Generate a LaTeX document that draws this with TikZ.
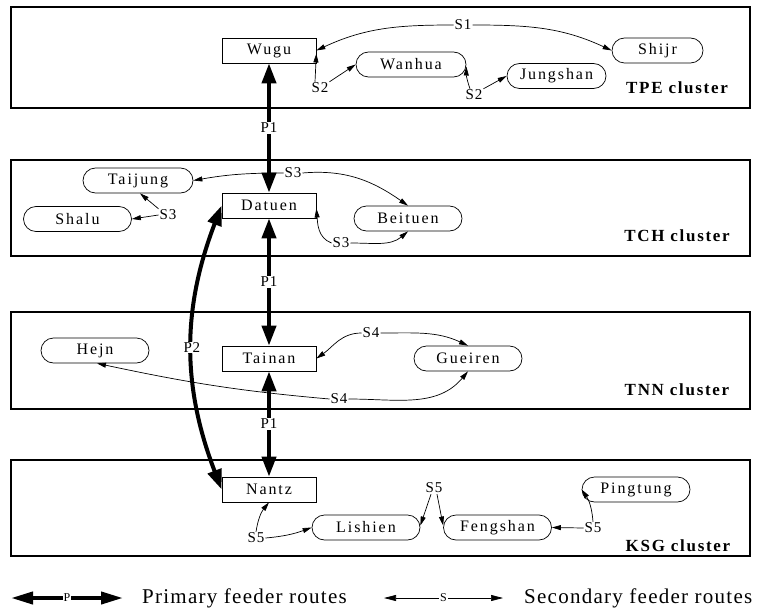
\documentclass[tikz,border=0pt]{standalone}
\usepackage{fontspec}
\setmainfont{Liberation Serif}
\newfontfamily\stationfont[LetterSpace=12]{Liberation Serif}
\newfontfamily\routefont[LetterSpace=5]{Liberation Serif}
\newfontfamily\clusterfont[LetterSpace=10]{Liberation Serif}
\newfontfamily\legendfont[LetterSpace=6]{Liberation Serif}
\usepackage{tikz}
\usetikzlibrary{arrows.meta}
\tikzset{
  cluster/.style={draw=black, line width=1.5pt},
  hub/.style={draw=black, line width=0.7pt, minimum width=94pt, minimum height=25pt,
    inner sep=0pt, font=\stationfont\fontsize{16}{18}\selectfont},
  feeder/.style={hub, rounded corners=12.5pt, minimum width=108pt},
  rlab/.style={fill=white, inner sep=1pt, font=\routefont\fontsize{15}{17}\selectfont},
  clab/.style={font=\clusterfont\bfseries\fontsize{17}{19}\selectfont},
  legtext/.style={anchor=west, inner sep=0pt, font=\legendfont\fontsize{21}{24}\selectfont},
  parrow/.style={line width=4pt, {Triangle[length=20pt,width=14pt]}-{Triangle[length=20pt,width=14pt]}},
  sarrow/.style={line width=0.7pt, -{Triangle[length=9pt,width=5pt]}}
}

\begin{document}
\begin{tikzpicture}[x=1pt, y=-1pt]
  \useasboundingbox (0,0) rectangle (768,615);

  % clusters
  \draw[cluster] (11,7) rectangle (750,108);
  \draw[cluster] (11,160) rectangle (750,256);
  \draw[cluster] (11,312) rectangle (750,409);
  \draw[cluster] (11,460) rectangle (750,556);
  \node[clab] (tpe) at (677,88) {TPE cluster};
  \node[clab] (tch) at (677,236) {TCH cluster};
  \node[clab] (tnn) at (677,390) {TNN cluster};
  \node[clab] (ksg) at (678,546) {KSG cluster};

  % stations
  \node[hub] (wugu) at (269,50.5) {Wugu};
  \node[feeder, minimum width=91pt] (shijr) at (657.5,50.5) {Shijr};
  \node[feeder, minimum width=110pt] (wanhua) at (411,64.5) {Wanhua};
  \node[feeder, minimum width=99pt] (jungshan) at (556.5,76) {Jungshan};

  \node[hub] (datuen) at (269,205.5) {Datuen};
  \node[feeder, minimum width=110pt] (taijung) at (138,180.5) {Taijung};
  \node[feeder] (shalu) at (77.5,219) {Shalu};
  \node[feeder] (beituen) at (408,218.5) {Beituen};

  \node[hub] (tainan) at (269,358.5) {Tainan};
  \node[feeder] (hejn) at (95,350.5) {Hejn};
  \node[feeder] (gueiren) at (468,358.5) {Gueiren};

  \node[hub] (nantz) at (269,489.5) {Nantz};
  \node[feeder] (lishien) at (366,527.5) {Lishien};
  \node[feeder] (fengshan) at (497.5,527.5) {Fengshan};
  \node[feeder] (pingtung) at (636,489.5) {Pingtung};

  % primary routes
  \draw[parrow] (wugu) -- node[rlab] {P1} (datuen);
  \draw[parrow] (datuen) -- node[rlab] {P1} (tainan);
  \draw[parrow] (tainan) -- node[rlab] {P1} (nantz);
  \draw[parrow] (datuen.west) to[bend right=21] node[rlab] {P2} (nantz.west);

  % secondary routes
  \node[rlab] (s1) at (463,25) {S1};
  \draw[sarrow] (s1.west) to[out=180, in=25] (wugu.east);
  \draw[sarrow] (s1.east) to[out=0, in=155] (shijr.west);

  \node[rlab] (s2a) at (320,88) {S2};
  \draw[sarrow] ([xshift=-5pt]s2a.north) -- ([yshift=-3pt]wugu.east);
  \draw[sarrow] (s2a.north east) -- (wanhua.west);
  \node[rlab] (s2b) at (474,95) {S2};
  \draw[sarrow] ([xshift=-4pt]s2b.north) to[bend left=10] ([yshift=-2pt]wanhua.east);
  \draw[sarrow] (s2b.north east) -- (jungshan.west);

  \node[rlab] (s3a) at (293,173) {S3};
  \draw[sarrow] (s3a.west) to[out=180, in=10] (taijung.east);
  \draw[sarrow] (s3a.east) to[out=5, in=145] (beituen.north);
  \node[rlab] (s3b) at (168,215) {S3};
  \draw[sarrow] (s3b.north west) -- ([xshift=2pt]taijung.south);
  \draw[sarrow] (s3b.west) -- (shalu.east);
  \node[rlab] (s3c) at (341,243) {S3};
  \draw[sarrow] (s3c.west) to[out=160, in=-85] ([yshift=-3pt]datuen.east);
  \draw[sarrow] (s3c.east) to[out=0, in=-140] (beituen.south);

  \node[rlab] (s4a) at (371,333) {S4};
  \draw[sarrow] (s4a.west) to[out=180, in=35] (tainan.east);
  \draw[sarrow] (s4a.east) to[out=0, in=155] (gueiren.north);
  \node[rlab] (s4b) at (339,399) {S4};
  \draw[sarrow] (s4b.west) to[out=175, in=-12] ([xshift=2pt]hejn.south);
  \draw[sarrow] (s4b.east) to[out=0, in=-130] (gueiren.south);

  \node[rlab] (s5a) at (256,538) {S5};
  \draw[sarrow] (s5a.north) to[bend left=15] (nantz.south);
  \draw[sarrow] (s5a.east) to[out=5, in=-160] (lishien.west);
  \node[rlab] (s5b) at (434,488) {S5};
  \draw[sarrow] ([xshift=-3pt]s5b.south) -- ([yshift=2pt]lishien.east);
  \draw[sarrow] ([xshift=3pt]s5b.south) -- ([yshift=2pt]fengshan.west);
  \node[rlab] (s5c) at (593,528) {S5};
  \draw[sarrow] (s5c.west) -- (fengshan.east);
  \draw[sarrow] (s5c.north) to[bend right=15] (pingtung.west);

  % legend
  \coordinate (legPa) at (11,598);
  \coordinate (legPb) at (123,598);
  \draw[line width=4pt, {Triangle[length=22pt,width=12pt]}-{Triangle[length=22pt,width=12pt]}]
    (legPa) -- node[rlab, font=\routefont\fontsize{12}{14}\selectfont] {P} (legPb);
  \node[legtext] (legP) at (142,598) {Primary feeder routes};
  \coordinate (legSa) at (384,598);
  \coordinate (legSb) at (503,598);
  \draw[line width=0.7pt, {Triangle[length=12pt,width=6pt]}-{Triangle[length=12pt,width=6pt]}]
    (legSa) -- node[rlab, font=\routefont\fontsize{12}{14}\selectfont] {S} (legSb);
  \node[legtext] (legS) at (524,598) {Secondary feeder routes};
\end{tikzpicture}
\end{document}
